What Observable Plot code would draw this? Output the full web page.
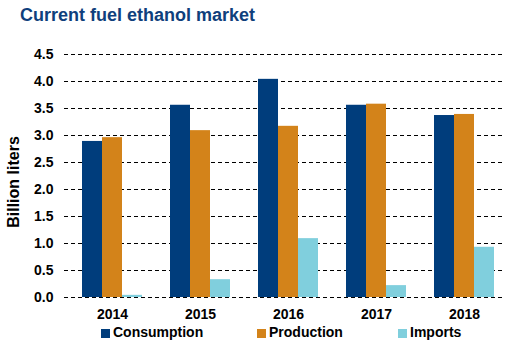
<!DOCTYPE html>
<html>
<head>
<meta charset="utf-8">
<script src="https://cdn.jsdelivr.net/npm/d3@7"></script>
<script src="https://cdn.jsdelivr.net/npm/@observablehq/plot@0.6"></script>
<style>
  body { margin: 0; background: #fff; font-family: "Liberation Sans", Arial, sans-serif; }
  #wrap { position: relative; width: 509px; height: 340px; overflow: hidden; background: #fff; }
  #title { position: absolute; left: 20px; top: 5px; font-size: 18px; font-weight: bold; color: #0f3f7c; white-space: nowrap; }
  #grid, #chart { position: absolute; left: 0; top: 40px; }
  #ylabel { position: absolute; left: 13.5px; top: 182px; transform: translate(-50%, -50%) rotate(-90deg); font-size: 16px; font-weight: bold; color: #000; white-space: nowrap; }
  .lg { position: absolute; top: 324px; height: 16px; font-size: 14px; font-weight: bold; color: #000; white-space: nowrap; line-height: 16px; }
  .lg i { display: inline-block; width: 9px; height: 9px; margin-right: 3px; vertical-align: -1px; }
</style>
</head>
<body>
<div id="wrap">
  <div id="title">Current fuel ethanol market</div>
  <div id="grid"></div>
  <div id="chart"></div>
  <div id="ylabel">Billion liters</div>
  <div id="legend"></div>
</div>
<script>
const years = ["2014", "2015", "2016", "2017", "2018"];
const series = ["Consumption", "Production", "Imports"];
const consumption = [2.89, 3.56, 4.04, 3.56, 3.37];
const production = [2.96, 3.09, 3.17, 3.58, 3.39];
const imports = [0.04, 0.33, 1.09, 0.22, 0.93];
const colors = ["#003d7c", "#d3831a", "#80cfdd"];
const yTicks = [0, 0.5, 1, 1.5, 2, 2.5, 3, 3.5, 4, 4.5];
const legendLeft = [101, 257, 398];

const values = [consumption, production, imports];
const data = [];
years.forEach((yr, i) => {
  series.forEach((s, j) => data.push({year: yr, series: s, value: values[j][i]}));
});

const common = {
  width: 509,
  height: 284,
  marginTop: 14,
  marginBottom: 27,
  marginLeft: 64,
  marginRight: 4,
  style: {fontFamily: "'Liberation Sans', Arial, sans-serif", fontSize: "14px", fontWeight: "bold", color: "#000", background: "transparent", overflow: "visible"}
};

// Background: dashed gridlines + y axis labels
const grid = Plot.plot({
  ...common,
  y: {domain: [0, 4.5], ticks: yTicks, tickFormat: d3.format(".1f"), tickSize: 0, tickPadding: 11, label: null},
  marks: [
    Plot.ruleY(yTicks, {y: d => d, stroke: "#000", strokeWidth: 1, strokeDasharray: "4,3"})
  ]
});
document.getElementById("grid").appendChild(grid);

// Foreground: grouped bars + year labels
const chart = Plot.plot({
  ...common,
  fx: {domain: years, paddingInner: 0.32, paddingOuter: 0.152, align: 0.63, axis: "bottom", tickSize: 0, tickPadding: 12, label: null},
  x: {domain: series, padding: 0, axis: null},
  y: {domain: [0, 4.5], axis: null},
  color: {domain: series, range: colors},
  marks: [
    Plot.barY(data, {fx: "year", x: "series", y: "value", fill: "series", insetLeft: 0, insetRight: 0})
  ]
});
document.getElementById("chart").appendChild(chart);

const legend = document.getElementById("legend");
series.forEach((s, j) => {
  const d = document.createElement("div");
  d.className = "lg";
  d.style.left = legendLeft[j] + "px";
  const sw = document.createElement("i");
  sw.style.background = colors[j];
  d.appendChild(sw);
  d.appendChild(document.createTextNode(s));
  legend.appendChild(d);
});
</script>
</body>
</html>
